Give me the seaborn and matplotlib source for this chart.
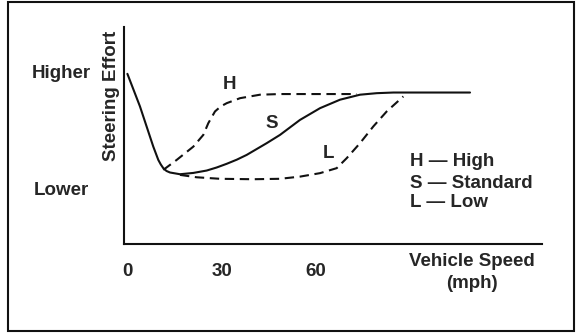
import numpy as np
import pandas as pd
import seaborn as sns
import matplotlib.pyplot as plt
from matplotlib.patches import Rectangle

### data (speed in mph, effort on a 0-100 scale) ###

# S - standard
s_speed = [0, 4.0, 8.24, 9.83, 10.62, 11.42, 12.44, 13.55, 16.73, 20.97, 25.23,
           28.4, 31.59, 34.8, 37.96, 44.32, 48.55, 54.91, 61.28, 67.64, 74.0,
           79.32, 84.6, 109.0]
s_effort = [78.3, 63.3, 44.8, 38.7, 36.6, 34.9, 33.6, 32.9, 32.1, 32.7, 33.8,
            35.2, 36.9, 38.8, 41.0, 46.4, 50.2, 57.1, 62.5, 66.4, 68.7,
            69.4, 69.7, 69.7]

# H - high
h_speed = [11.42, 15.69, 20.97, 24.15, 25.74, 27.87, 29.7, 31.59, 35.83, 42.19,
           48.55, 72.96]
h_effort = [34.1, 38.7, 44.8, 50.2, 55.6, 61.0, 63.3, 64.8, 67.1, 68.7,
            69.0, 69.0]

# L - low
l_speed = [16.73, 22.05, 29.46, 39.96, 48.55, 54.91, 61.28, 66.59, 69.77, 74.0,
           78.24, 82.5, 87.78]
l_effort = [31.8, 30.7, 30.0, 29.8, 30.0, 31.0, 32.6, 34.9, 39.5, 46.4,
            54.1, 61.0, 67.9]

tick_speeds = [0, 30, 60]
tick_labels = ['0', '30', '60']
legend_lines = ['H \u2014 High', 'S \u2014 Standard', 'L \u2014 Low']

sns.set_style('white')
plt.rcParams['font.family'] = ['Liberation Sans', 'DejaVu Sans']
plt.rcParams['font.weight'] = 'bold'
fs = 13.5
ink = '#111111'

fig = plt.figure(figsize=(5.77, 3.34), dpi=100)
ax = fig.add_axes([0.2149, 0.2695, 0.7239, 0.6506])

lw = 1.5
sns.lineplot(x=s_speed, y=s_effort, ax=ax, color=ink, lw=lw, estimator=None)
sns.lineplot(x=h_speed, y=h_effort, ax=ax, color=ink, lw=lw, estimator=None)
sns.lineplot(x=l_speed, y=l_effort, ax=ax, color=ink, lw=lw, estimator=None)
ax.lines[1].set_dashes((4.5, 2.7))
ax.lines[2].set_dashes((4.5, 2.7))

ax.set_xlim(-1.08, 131.8)
ax.set_ylim(0, 100)

# axes: only left and bottom spines
for side in ['top', 'right']:
    ax.spines[side].set_visible(False)
for side in ['left', 'bottom']:
    ax.spines[side].set_linewidth(1.5)
    ax.spines[side].set_color(ink)

ax.set_yticks([])
ax.set_xticks(tick_speeds)
ax.set_xticklabels(tick_labels, fontsize=fs, fontweight='bold')
ax.tick_params(axis='x', direction='inout', length=13.9, width=1.4,
               color=ink, pad=7.0)
ax.xaxis.get_major_ticks()[0].tick1line.set_visible(False)
ax.set_xlabel('')
ax.set_ylabel('')

# curve labels
ax.text(32.6, 73.3, 'H', fontsize=fs, ha='center', va='center')
ax.text(45.9, 55.3, 'S', fontsize=fs, ha='center', va='center')
ax.text(63.9, 41.5, 'L', fontsize=fs, ha='center', va='center')

# legend text
for txt, yy in zip(legend_lines, [37.9, 28.0, 19.0]):
    ax.text(90.0, yy, txt, fontsize=fs, ha='left', va='center')

# axis wording
ax.text(-20.9, 78.3, 'Higher', fontsize=fs, ha='center', va='center')
ax.text(-20.9, 24.6, 'Lower', fontsize=fs, ha='center', va='center')
ax.text(-5.2, 68.2, 'Steering Effort', fontsize=fs, ha='center', va='center',
        rotation=90)
ax.text(109.5, -8.2, 'Vehicle Speed', fontsize=fs, ha='center', va='center')
ax.text(109.5, -18.1, '(mph)', fontsize=fs, ha='center', va='center')

# outer frame
fig.patches.append(Rectangle((8.3 / 577, 3 / 334), (574.3 - 8.3) / 577,
                             (332 - 3) / 334, transform=fig.transFigure,
                             fill=False, lw=1.5, ec=ink))

fig.savefig('out.png', dpi=100)
